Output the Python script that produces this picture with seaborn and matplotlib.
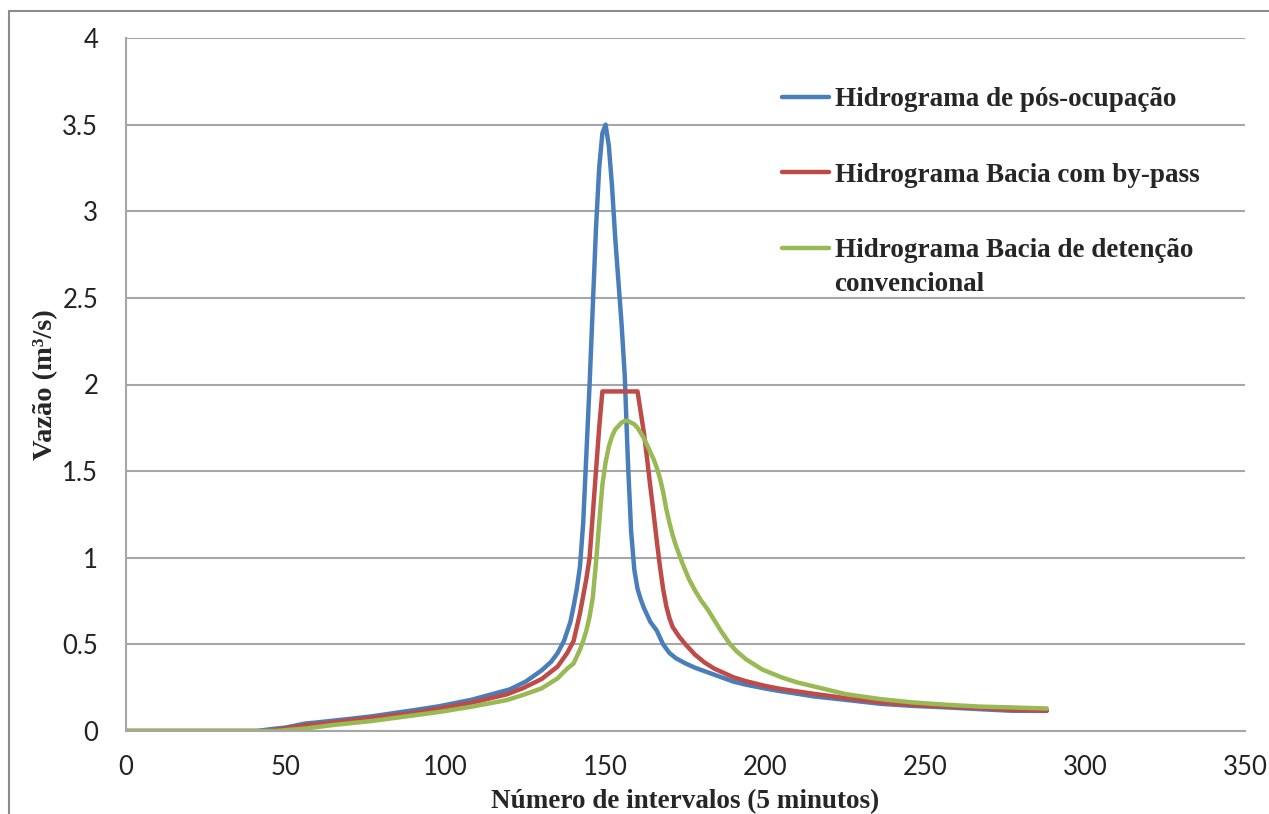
import pandas as pd
import seaborn as sns
import matplotlib.pyplot as plt
from matplotlib.patches import Rectangle

# valores (intervalo de 5 min, vazão em m3/s)
pos_x = [0, 41, 45, 50, 56, 60, 70, 77, 90, 98, 108, 115, 120, 125, 130, 133, 135, 137, 139,
         140, 141, 142, 143, 144, 145, 146, 147, 148, 149, 150, 151, 152, 153, 154, 155, 156,
         157, 158, 159, 160, 161, 162, 163, 164, 166, 168, 170, 172, 175, 178, 181, 184, 190,
         194, 200, 205, 210, 215, 225, 236, 246, 257, 267, 277, 288]
pos_q = [0, 0, 0.01, 0.02, 0.043, 0.05, 0.07, 0.085, 0.12, 0.143, 0.18, 0.215, 0.24, 0.285,
         0.35, 0.40, 0.45, 0.52, 0.63, 0.72, 0.82, 0.95, 1.2, 1.6, 2.0, 2.45, 2.9, 3.25, 3.45,
         3.5, 3.38, 3.15, 2.85, 2.6, 2.35, 2.05, 1.55, 1.15, 0.93, 0.82, 0.76, 0.71, 0.67,
         0.63, 0.58, 0.50, 0.45, 0.42, 0.39, 0.365, 0.345, 0.325, 0.285, 0.267, 0.245, 0.229,
         0.215, 0.2, 0.18, 0.157, 0.145, 0.136, 0.126, 0.117, 0.116]

bypass_x = [0, 44, 48, 56, 65, 77, 90, 98, 108, 119, 124, 130, 135, 138, 140, 142, 144, 145,
            146, 147, 148, 149, 160, 161, 162, 163, 164, 165, 166, 167, 168, 169, 170, 171,
            173, 175, 178, 181, 184, 190, 194, 200, 205, 215, 225, 236, 246, 257, 267, 277, 288]
bypass_q = [0, 0, 0.01, 0.033, 0.05, 0.076, 0.105, 0.13, 0.163, 0.211, 0.246, 0.30, 0.372,
            0.45, 0.52, 0.68, 0.88, 1.0, 1.25, 1.5, 1.75, 1.96, 1.96, 1.84, 1.72, 1.57, 1.41,
            1.26, 1.1, 0.95, 0.82, 0.72, 0.65, 0.6, 0.545, 0.5, 0.44, 0.395, 0.36, 0.31, 0.287,
            0.26, 0.242, 0.215, 0.19, 0.165, 0.151, 0.141, 0.132, 0.122, 0.118]

conv_x = [0, 47, 50, 56, 65, 77, 90, 98, 108, 119, 124, 130, 135, 138, 140, 142, 143, 144,
          145, 146, 147, 148, 149, 150, 151, 152, 153, 154, 155, 156, 157, 158, 159, 160, 161,
          162, 163, 164, 165, 166, 167, 168, 169, 170, 171, 172, 173, 174, 176, 178, 180, 182,
          184, 186, 189, 191, 194, 199, 205, 210, 215, 225, 236, 246, 257, 267, 277, 288]
conv_q = [0, 0, 0.005, 0.014, 0.035, 0.058, 0.09, 0.11, 0.14, 0.178, 0.207, 0.246, 0.304,
          0.36, 0.39, 0.47, 0.52, 0.58, 0.66, 0.77, 0.97, 1.2, 1.42, 1.55, 1.64, 1.70, 1.74,
          1.76, 1.78, 1.79, 1.79, 1.78, 1.77, 1.75, 1.72, 1.69, 1.65, 1.61, 1.57, 1.52, 1.46,
          1.38, 1.28, 1.2, 1.13, 1.07, 1.02, 0.97, 0.88, 0.81, 0.75, 0.70, 0.64, 0.58, 0.5,
          0.46, 0.413, 0.355, 0.31, 0.28, 0.258, 0.213, 0.184, 0.165, 0.151, 0.141, 0.136, 0.13]

labels = ['Hidrograma de pós-ocupação',
          'Hidrograma Bacia com by-pass',
          'Hidrograma Bacia de detenção']
cores = ['#4A7EBB', '#BE4B48', '#98B954']

df = pd.concat([
    pd.DataFrame({'intervalo': pos_x, 'vazao': pos_q, 'serie': labels[0]}),
    pd.DataFrame({'intervalo': bypass_x, 'vazao': bypass_q, 'serie': labels[1]}),
    pd.DataFrame({'intervalo': conv_x, 'vazao': conv_q, 'serie': labels[2]}),
])

sns.set_style('white')
plt.rcParams['font.family'] = ['Lato', 'DejaVu Sans']

fig = plt.figure(figsize=(12.69, 8.14), dpi=100)
ax = fig.add_axes([126 / 1269, 1 - 731 / 814, (1245 - 126) / 1269, (731 - 38) / 814])

sns.lineplot(data=df, x='intervalo', y='vazao', hue='serie', palette=cores,
             estimator=None, sort=False, linewidth=3.2, ax=ax)

ax.set_xlim(0, 350)
ax.set_ylim(0, 4)
ax.set_xticks(range(0, 351, 50))
ax.set_yticks([0, 0.5, 1, 1.5, 2, 2.5, 3, 3.5, 4])
ax.set_yticklabels(['0', '0.5', '1', '1.5', '2', '2.5', '3', '3.5', '4'])
ax.tick_params(axis='both', length=0, labelsize=18.5, colors='#222222')
ax.tick_params(axis='y', pad=20)
ax.tick_params(axis='x', pad=17)
ax.grid(axis='y', color='#a6a6a6', linewidth=1.5)
ax.set_axisbelow(True)
for s in ['top', 'right']:
    ax.spines[s].set_visible(False)
for s in ['left', 'bottom']:
    ax.spines[s].set_color('#a6a6a6')
    ax.spines[s].set_linewidth(1.5)

serif = {'family': 'Liberation Serif', 'weight': 'bold', 'size': 19.5}
ax.set_xlabel('Número de intervalos (5 minutos)', fontdict=serif, labelpad=6.5)
ax.set_ylabel('Vazão (m³/s)', fontdict={**serif, 'size': 20.5}, labelpad=3)

leg = ax.legend(loc='upper left', bbox_to_anchor=(0.586, 0.9293), frameon=False,
                prop={'family': 'Liberation Serif', 'weight': 'bold', 'size': 19.5},
                handlelength=1.75, handletextpad=0.2, labelspacing=1.87,
                borderpad=0, borderaxespad=0)
for h in leg.get_lines():
    h.set_linewidth(3.2)

# segunda linha do rótulo da bacia convencional, logo abaixo da primeira
fig.canvas.draw()
bb = leg.get_texts()[2].get_window_extent().transformed(fig.transFigure.inverted())
fig.text(bb.x0, bb.y0 - 0.011, 'convencional', ha='left', va='top',
         family='Liberation Serif', weight='bold', size=19.5)

fig.add_artist(Rectangle((9 / 1269, -0.05), 1.2, 1 - 11 / 814 + 0.05,
                         transform=fig.transFigure, fill=False,
                         edgecolor='#8c8c8c', linewidth=1.5))

fig.savefig('out.png', dpi=100)
